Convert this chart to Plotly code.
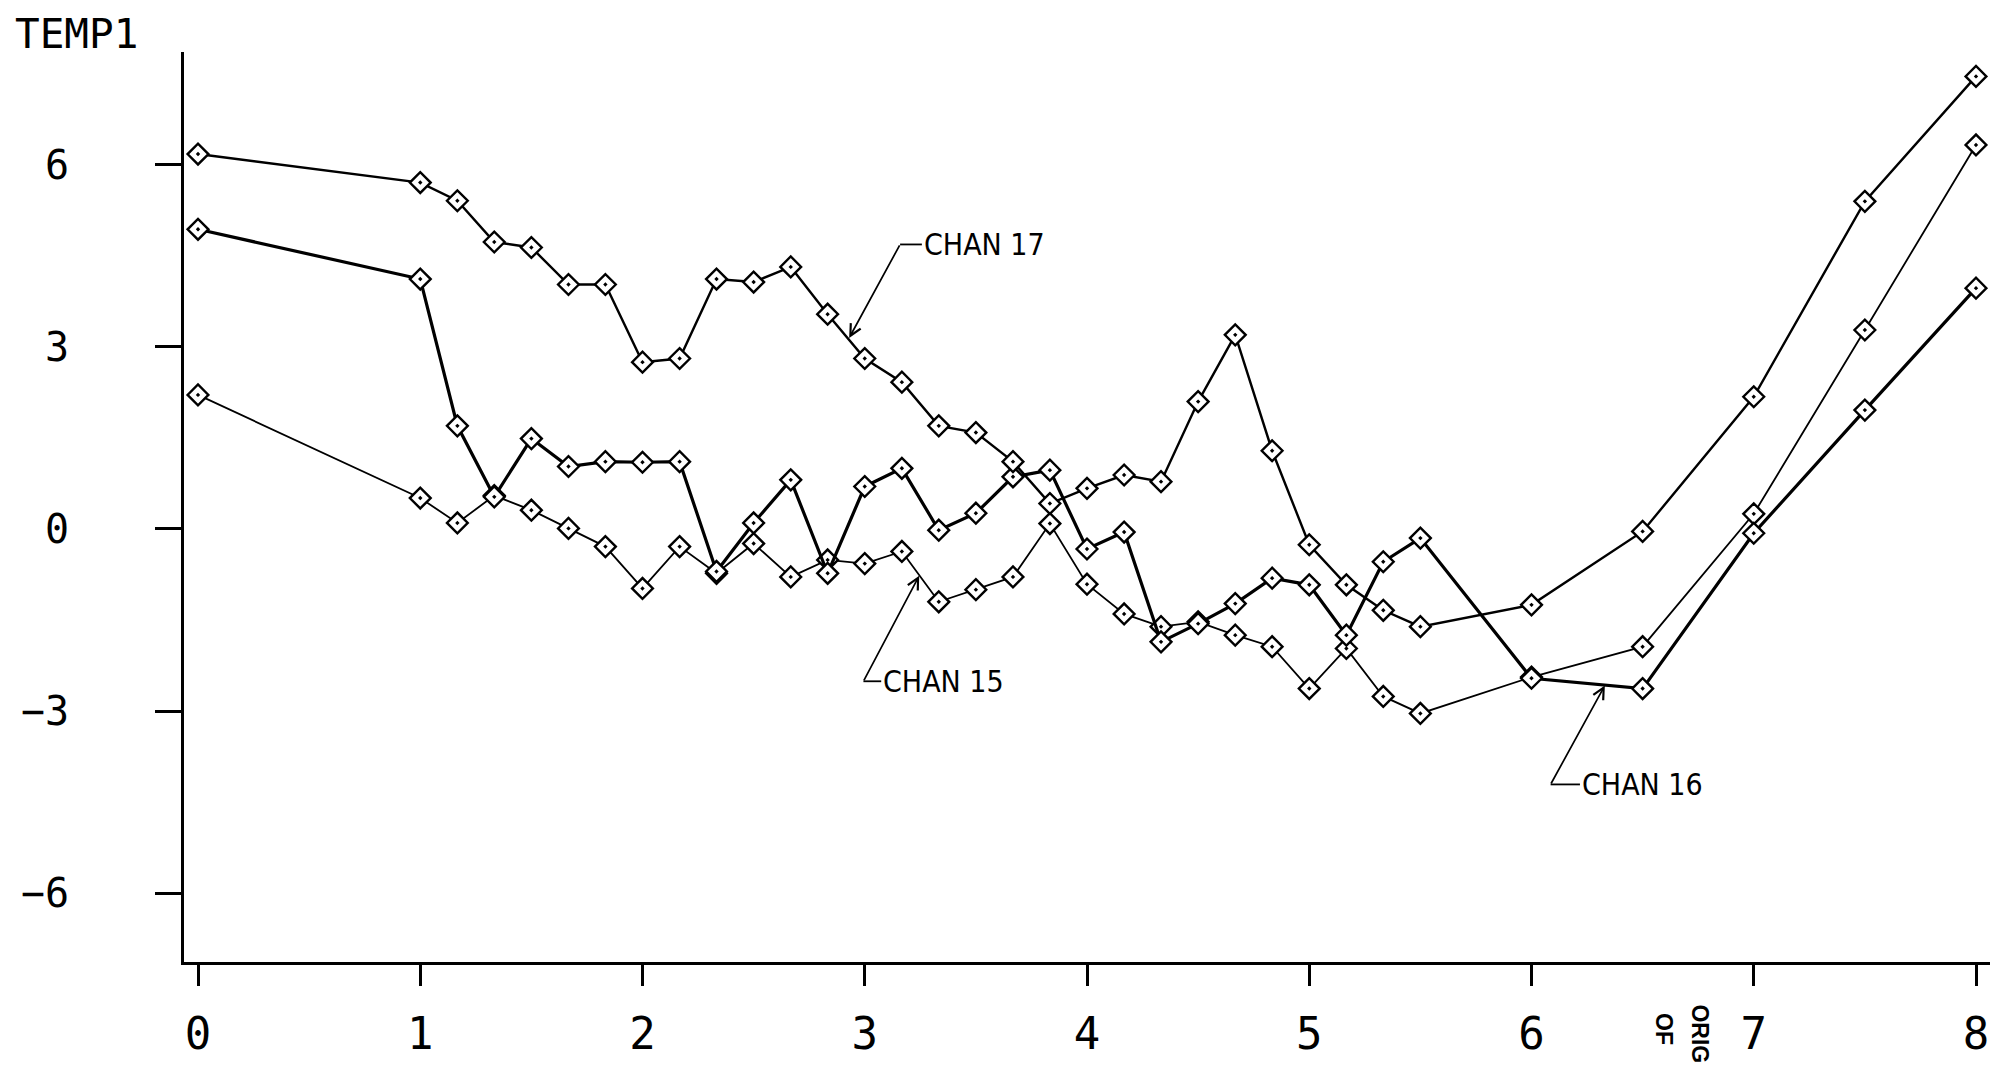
import plotly.graph_objects as go

# ---------------- data ----------------
time_hr = [0, 1, 1.167, 1.333, 1.5, 1.667, 1.833, 2.0, 2.167, 2.333, 2.5, 2.667,
           2.833, 3.0, 3.167, 3.333, 3.5, 3.667, 3.833, 4.0, 4.167, 4.333, 4.5,
           4.667, 4.833, 5.0, 5.167, 5.333, 5.5, 6.0, 6.5, 7.0, 7.5, 8.0]

chan17 = [6.18, 5.71, 5.41, 4.73, 4.64, 4.03, 4.03, 2.75, 2.81, 4.12, 4.07, 4.32,
          3.54, 2.81, 2.42, 1.70, 1.59, 1.11, 0.42, 0.67, 0.89, 0.78, 2.10,
          3.20, 1.29, -0.26, -0.92, -1.34, -1.61, -1.25, -0.04, 2.18, 5.40, 7.46]

chan16 = [4.94, 4.12, 1.70, 0.53, 1.49, 1.03, 1.11, 1.10, 1.11, -0.70, 0.10, 0.81,
          -0.73, 0.70, 1.00, -0.02, 0.26, 0.86, 0.97, -0.33, -0.05, -1.86, -1.56,
          -1.23, -0.81, -0.92, -1.75, -0.54, -0.15, -2.46, -2.63, -0.07, 1.96, 3.97]

chan15 = [2.21, 0.51, 0.10, 0.55, 0.31, 0.01, -0.29, -0.98, -0.29, -0.73, -0.24, -0.79,
          -0.51, -0.57, -0.37, -1.20, -1.00, -0.79, 0.09, -0.91, -1.40, -1.61, -1.53,
          -1.75, -1.94, -2.63, -1.97, -2.76, -3.04, -2.44, -1.94, 0.25, 3.28, 6.33]

x_ticks = [0, 1, 2, 3, 4, 5, 6, 7, 8]
x_tick_labels = ["0", "1", "2", "3", "4", "5", "6", "7", "8"]
y_ticks = [-6, -3, 0, 3, 6]
y_tick_labels = ["\u22126", "\u22123", "0", "3", "6"]

series_names = ["CHAN 15", "CHAN 16", "CHAN 17"]
series_values = [chan15, chan16, chan17]

# ---------------- styling ----------------
line_widths = {"CHAN 15": 1.8, "CHAN 16": 3.2, "CHAN 17": 2.4}

fig = go.Figure()
for name, vals in zip(series_names, series_values):
    fig.add_trace(go.Scatter(
        x=time_hr, y=vals, name=name, mode="lines+markers",
        line=dict(color="black", width=line_widths[name]),
        marker=dict(symbol="diamond-dot", size=16, color="white",
                    line=dict(color="black", width=2.4)),
        cliponaxis=False,
    ))

label_font = dict(family="Liberation Sans Narrow, DejaVu Sans Condensed, Liberation Sans",
                  size=30, color="black")

# label layout: (text, text x, text y, corner x, corner y, tick end x, tip x, tip y)
callouts = [
    ("CHAN 17", 3.262, 4.69, 3.159, 4.69, 3.257, 2.93, 3.15),
    ("CHAN 15", 3.079, -2.51, 2.994, -2.51, 3.074, 3.245, -0.77),
    ("CHAN 16", 6.223, -4.21, 6.086, -4.21, 6.218, 6.33, -2.58),
]

annotations = []
shapes = []
for txt, tx, ty, cx, cy, tex, px, py in callouts:
    annotations.append(dict(x=tx, y=ty, xref="x", yref="y", text=txt,
                            showarrow=False, xanchor="left", yanchor="middle",
                            borderpad=0, font=label_font))
    shapes.append(dict(type="line", xref="x", yref="y", x0=cx, y0=cy, x1=tex, y1=cy,
                       line=dict(color="black", width=1.8)))
    annotations.append(dict(x=px, y=py, xref="x", yref="y", ax=cx, ay=cy,
                            axref="x", ayref="y", text=" ", showarrow=True,
                            arrowhead=5, arrowsize=1.3, arrowwidth=1.7,
                            arrowcolor="black", standoff=0, startstandoff=0,
                            borderpad=0, font=dict(size=1)))

# y-axis title
annotations.append(dict(x=-0.094, y=1.02, xref="paper", yref="paper", text="TEMP1",
                        showarrow=False, xanchor="left", yanchor="middle", borderpad=0,
                        font=dict(family="DejaVu Sans Mono", size=41, color="black")))

# stamp fragments near the x axis
stamp_font = dict(family="Liberation Sans", size=23, color="black", weight="bold")
annotations.append(dict(x=6.596, y=-0.055, xref="x", yref="paper", text="OF",
                        showarrow=False, textangle=90, xanchor="center", yanchor="top",
                        borderpad=0, font=stamp_font))
annotations.append(dict(x=6.758, y=-0.046, xref="x", yref="paper", text="ORIG",
                        showarrow=False, textangle=90, xanchor="center", yanchor="top",
                        borderpad=0, font=stamp_font))

# page body has an 8 px margin, so the figure is offset by 8 px
fig.update_layout(
    width=1997, height=1057,
    margin=dict(l=176, r=15, t=44, b=103, autoexpand=False),
    plot_bgcolor="white", paper_bgcolor="white",
    showlegend=False,
    annotations=annotations, shapes=shapes,
)
fig.update_xaxes(range=[-0.063, 8.063], tickvals=x_ticks, ticktext=x_tick_labels,
                 showline=True, linewidth=3, linecolor="black",
                 ticks="outside", ticklen=21, tickwidth=3, tickcolor="black",
                 showgrid=False, zeroline=False, ticklabelstandoff=10, automargin=False,
                 tickfont=dict(family="DejaVu Sans Mono", size=44, color="black"))
fig.update_yaxes(range=[-7.137, 7.862], tickvals=y_ticks, ticktext=y_tick_labels,
                 showline=True, linewidth=3, linecolor="black",
                 ticks="outside", ticklen=26, tickwidth=3, tickcolor="black",
                 showgrid=False, zeroline=False, ticklabelstandoff=78, automargin=False,
                 tickfont=dict(family="DejaVu Sans Mono", size=40, color="black"))

fig.write_html("out.html")
